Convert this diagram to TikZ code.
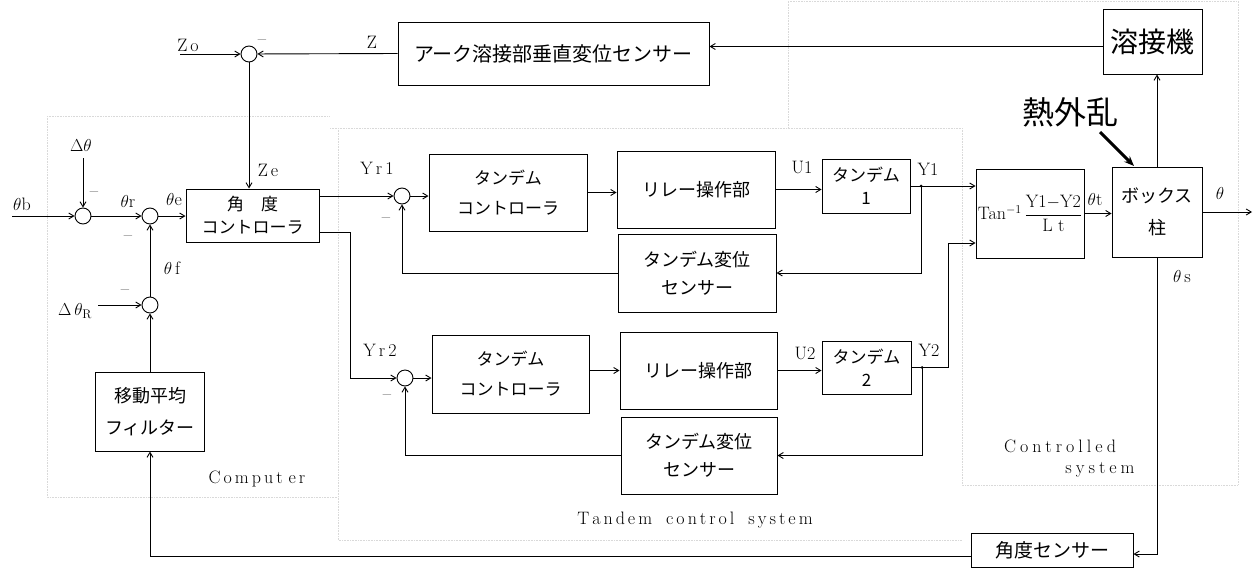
\documentclass[tikz,border=0pt]{standalone}
\usepackage{fontspec}
\newfontfamily\jp{Noto Sans CJK JP}
\usetikzlibrary{arrows.meta}
\newcommand\lspA{\kern3pt}
\newcommand\lspB{\kern4pt}
\begin{document}
\begin{tikzpicture}[x=1pt,y=-1pt,
  >={Straight Barb[length=5pt,width=6pt]},
  blk/.style={draw, line width=1pt, align=center, inner sep=0pt, font=\jp\fontsize{17}{24}\selectfont},
  sumc/.style={draw, circle, minimum size=16pt, inner sep=0pt, line width=0.9pt},
  lbl/.style={inner sep=0pt, font=\fontsize{18}{22}\selectfont},
  conn/.style={->, line width=0.9pt},
  region/.style={gray!30, densely dotted, line width=0.6pt}]
\useasboundingbox (0,0) rectangle (1258,568);

% faint region boundaries
\draw[region] (47,116) -- (330,116);
\draw[region] (47,116) -- (47,497) -- (338,497);
\draw[region] (330,128) -- (962,128);
\draw[region] (338,128) -- (338,540) -- (962,540);
\draw[region] (962,128) -- (962,485) -- (1238,485) -- (1238,1) -- (788,1) -- (788,128);

% blocks
\node[blk, minimum width=133pt, minimum height=53pt, font=\jp\fontsize{17}{23}\selectfont] (ang) at (252.5,215.5) {角　度\\コントローラ};
\node[blk, minimum width=311pt, minimum height=63pt, font=\jp\fontsize{20}{24}\selectfont] (arc) at (553.5,53.5) {アーク溶接部垂直変位センサー};
\node[blk, minimum width=99pt, minimum height=65pt, font=\jp\fontsize{28}{32}\selectfont] (weld) at (1152.5,41.5) {溶接機};
\node[blk, minimum width=90pt, minimum height=90pt, font=\jp\fontsize{18}{32}\selectfont] (col) at (1157,212) {ボックス\\柱};
\node[blk, minimum width=108pt, minimum height=89pt, font=\fontsize{18}{22}\selectfont] (tan) at (1030,213.5) {Tan$^{-1}$\,$\displaystyle\frac{\mathrm{Y1{-}Y2}}{\mathrm{L\ t}}$};
\node[blk, minimum width=162pt, minimum height=34pt, font=\jp\fontsize{19}{24}\selectfont] (angs) at (1052,550) {角度センサー};
\node[blk, minimum width=109pt, minimum height=79pt, font=\jp\fontsize{18}{32}\selectfont] (filt) at (150,411.5) {移動平均\\フィルター};

\node[blk, minimum width=158pt, minimum height=77pt, font=\jp\fontsize{17}{30}\selectfont] (tc1) at (508,192.5) {タンデム\\コントローラ};
\node[blk, minimum width=158pt, minimum height=77pt, font=\jp\fontsize{18}{24}\selectfont] (rel1) at (696,189.5) {リレー操作部};
\node[blk, minimum width=88pt, minimum height=54pt, font=\jp\fontsize{17}{23}\selectfont] (t1) at (866,186) {タンデム\\1};
\node[blk, minimum width=158pt, minimum height=78pt, font=\jp\fontsize{18}{28}\selectfont] (ts1) at (697,273) {タンデム変位\\センサー};

\node[blk, minimum width=157pt, minimum height=78pt, font=\jp\fontsize{17}{30}\selectfont] (tc2) at (510.5,374) {タンデム\\コントローラ};
\node[blk, minimum width=157pt, minimum height=77pt, font=\jp\fontsize{18}{24}\selectfont] (rel2) at (698.5,370.5) {リレー操作部};
\node[blk, minimum width=89pt, minimum height=53pt, font=\jp\fontsize{17}{23}\selectfont] (t2) at (866.5,367.5) {タンデム\\2};
\node[blk, minimum width=156pt, minimum height=77pt, font=\jp\fontsize{18}{28}\selectfont] (ts2) at (699,455.5) {タンデム変位\\センサー};

% summing junctions
\node[sumc] (s1) at (83,216) {};
\node[sumc] (s2) at (150,216) {};
\node[sumc] (s3) at (249,54) {};
\node[sumc] (s4) at (150,305) {};
\node[sumc] (s5) at (402,196) {};
\node[sumc] (s6) at (405,378) {};

% free ends and corners
\coordinate (tb) at (12,216);
\coordinate (dt) at (83,158);
\coordinate (dr) at (98,305);
\coordinate (zo) at (180,54);
\coordinate (k2) at (350,378);
\coordinate (j1) at (921,186);
\coordinate (j2) at (922,367.5);
\coordinate (c2) at (948,243);
\coordinate (out) at (1252,212);
\coordinate (h1) at (1100,132);
\coordinate (h2) at (1134,166);

% connectors: angle loop
\draw[conn] (tb) -- (s1);
\draw[conn] (dt) -- (s1);
\draw[conn] (s1) -- (s2);
\draw[conn] (s2) -- (s2 -| ang.west);
\draw[conn] (dr) -- (s4);
\draw[conn] (s4) -- (s2);
\draw[conn] (filt) -- (s4);
\draw[conn] (zo) -- (s3);
\draw[conn] (arc.west) -- (s3);
\draw[conn] (s3) -- (s3 |- ang.north);
\draw[conn] ([yshift=-5pt]weld.west) -- ([yshift=-5pt]weld.west -| arc.east);
\draw[conn] (col.north) -- (col.north |- weld.south);
\draw[conn] (tan.east) -- (tan.east -| col.west);
\draw[conn] (col.east |- out) -- (out);
\draw[conn] (col.south) |- ([yshift=-4pt]angs.east);
\draw[conn] ([yshift=-6pt]angs.west) -| (filt.south);
\draw[-{Stealth[length=10pt,width=8pt]}, line width=3pt] (h1) -- (h2);

% tandem 1
\draw[conn] (ang.east |- s5) -- (s5);
\draw[conn] (s5) -- (s5 -| tc1.west);
\draw[conn] (tc1.east) -- (tc1.east -| rel1.west);
\draw[conn] (rel1.east) -- (rel1.east -| t1.west);
\draw[conn] (t1.east) -- (t1.east -| tan.west);
\draw[conn] (j1) |- (ts1.east);
\draw[conn] (ts1.west) -| (s5.south);
\fill (j1) circle (1.5pt);

% tandem 2
\draw[conn] ([yshift=-16.5pt]ang.east) -| (k2) -- (s6);
\draw[conn] (s6) -- (s6 -| tc2.west);
\draw[conn] (tc2.east |- rel2.west) -- (rel2.west);
\draw[conn] (rel2.east) -- (rel2.east -| t2.west);
\draw[conn] (t2.east) -| (c2) -- (c2 -| tan.west);
\draw[conn] (j2) |- (ts2.east);
\draw[conn] (ts2.west) -| (s6.south);
\fill (j2) circle (1.5pt);

% labels
\node[lbl] (l-tb) at (22,204) {$\theta$b};
\node[lbl] (l-dt) at (81,145) {$\Delta\theta$};
\node[lbl] (m1) at (94,194) {\textendash};
\node[lbl] (l-tr) at (128,201) {$\theta$r};
\node[lbl] (l-te) at (174,200) {$\theta$e};
\node[lbl] (m2) at (128,238) {\textendash};
\node[lbl] (l-tf) at (172,268) {$\theta$\,f};
\node[lbl] (m3) at (125,292) {\textendash};
\node[lbl] (l-dr) at (75,311) {$\Delta\,\theta_{\mathrm{R}}$};
\node[lbl] (l-zo) at (188,45) {Z\,o};
\node[lbl] (m4) at (262,42) {\textendash};
\node[lbl] (l-z) at (372,42) {Z};
\node[lbl] (l-ze) at (268,170) {Z\,e};
\node[lbl] (l-yr1) at (377,168) {Y\,r\,1};
\node[lbl] (m5) at (386,220) {\textendash};
\node[lbl] (l-yr2) at (380,350) {Y\,r\,2};
\node[lbl] (m6) at (387,397) {\textendash};
\node[lbl] (l-u1) at (802,167) {U1};
\node[lbl] (l-y1) at (928,169) {Y1};
\node[lbl] (l-u2) at (805,353) {U2};
\node[lbl] (l-y2) at (929,350) {Y2};
\node[lbl] (l-tt) at (1095,200) {$\theta$t};
\node[lbl] (l-th) at (1220,193) {$\theta$};
\node[lbl] (l-ts) at (1182,277) {$\theta$\,s};
\node[inner sep=0pt, font=\jp\fontsize{32}{36}\selectfont] (heat) at (1070,112) {熱外乱};
\node[lbl] (l-comp) at (257,479) {C\lspA o\lspA m\lspA p\lspA u\lspA t\lspA\lspA e\lspA r};
\node[lbl] (l-tcs) at (695,520) {T\lspA a\lspA n\lspA d\lspA e\lspA m\hspace{14pt}c\lspA o\lspA n\lspA t\lspA r\lspA o\lspA l\hspace{14pt}s\lspA y\lspA s\lspA t\lspA e\lspA m};
\node[lbl] (l-cs1) at (1060,446) {C\lspB o\lspB n\lspB t\lspB r\lspB o\lspB l\lspB l\lspB e\lspB d};
\node[lbl] (l-cs2) at (1100,470) {s\lspB y\lspB s\lspB t\lspB e\lspB m};
\end{tikzpicture}
\end{document}
